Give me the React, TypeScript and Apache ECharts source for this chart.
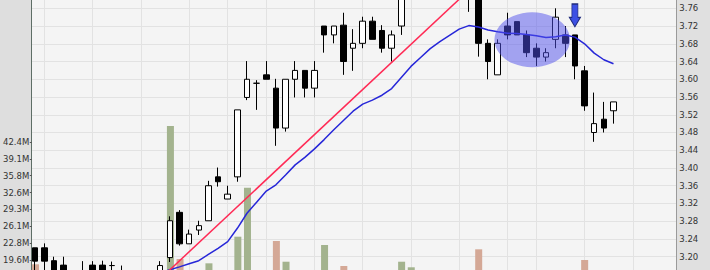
import React, { useEffect, useRef } from 'react';
import * as echarts from 'echarts';

// ---- data (visible candles k = 0..60) ----
const opens = [
  3.220, 3.220, 3.191, 3.181, 3.160, 3.165, 3.181, 3.181, 3.180, 3.165,
  3.160, 3.150, 3.140, 3.165, 3.198, 3.300, 3.229, 3.260, 3.281, 3.380,
  3.330, 3.380, 3.559, 3.591, 3.610, 3.580, 3.490, 3.600, 3.620, 3.580,
  3.720, 3.700, 3.722, 3.670, 3.681, 3.731, 3.710, 3.670, 3.720, 3.800,
  3.840, 3.860, 3.830, 3.850, 3.820, 3.800, 3.790, 3.681, 3.610, 3.720,
  3.730, 3.700, 3.670, 3.650, 3.690, 3.700, 3.700, 3.619, 3.480, 3.510,
  3.529,
];
const closes = [
  3.190, 3.190, 3.160, 3.160, 3.155, 3.160, 3.165, 3.165, 3.180, 3.160,
  3.150, 3.140, 3.150, 3.180, 3.281, 3.229, 3.251, 3.270, 3.360, 3.369,
  3.341, 3.531, 3.600, 3.591, 3.600, 3.490, 3.600, 3.620, 3.580, 3.620,
  3.700, 3.720, 3.640, 3.681, 3.731, 3.690, 3.670, 3.700, 3.800, 3.840,
  3.860, 3.830, 3.850, 3.820, 3.800, 3.790, 3.681, 3.640, 3.681, 3.700,
  3.700, 3.660, 3.650, 3.660, 3.740, 3.681, 3.630, 3.540, 3.500, 3.490,
  3.549,
];
const lows = [
  3.165, 3.170, 3.150, 3.150, 3.140, 3.150, 3.155, 3.155, 3.160, 3.150,
  3.140, 3.130, 3.130, 3.160, 3.188, 3.225, 3.229, 3.249, 3.281, 3.358,
  3.330, 3.369, 3.553, 3.531, 3.600, 3.450, 3.482, 3.559, 3.559, 3.559,
  3.660, 3.681, 3.610, 3.619, 3.670, 3.690, 3.660, 3.640, 3.700, 3.790,
  3.820, 3.810, 3.800, 3.800, 3.790, 3.752, 3.651, 3.600, 3.610, 3.690,
  3.700, 3.650, 3.630, 3.640, 3.670, 3.650, 3.600, 3.529, 3.459, 3.480,
  3.500,
];
const highs = [
  3.220, 3.230, 3.200, 3.200, 3.165, 3.190, 3.190, 3.191, 3.189, 3.180,
  3.165, 3.160, 3.160, 3.190, 3.291, 3.305, 3.261, 3.281, 3.371, 3.401,
  3.360, 3.531, 3.641, 3.598, 3.641, 3.601, 3.600, 3.641, 3.620, 3.641,
  3.720, 3.720, 3.750, 3.713, 3.741, 3.741, 3.722, 3.710, 3.810, 3.850,
  3.880, 3.880, 3.870, 3.860, 3.830, 3.810, 3.800, 3.690, 3.690, 3.750,
  3.730, 3.710, 3.681, 3.670, 3.760, 3.720, 3.700, 3.630, 3.570, 3.549,
  3.549,
];
// volume in millions
const volumesM = [
  18.73, 15, 12, 10, 8, 7, 9, 8, 6, 7,
  9, 11, 8, 10, 45.49, 19.75, 14, 12, 18.92, 15,
  13, 24.07, 33.55, 16, 14, 23.24, 19.23, 15, 12, 16,
  22.46, 17, 18.40, 13, 16, 14, 12, 11, 19.23, 18.15,
  16, 14, 12, 13, 11, 15, 21.63, 16, 14, 12,
  10, 13, 11, 9, 15, 12, 16, 19.56, 17, 12,
  10,
];
// moving average line
const maValues: (number | null)[] = [
  null, null, null, null, null, null, null, null, null, null,
  null, null, null, 3.163, 3.1705, 3.177, 3.184, 3.191, 3.205, 3.219,
  3.234, 3.264, 3.298, 3.323, 3.348, 3.362, 3.384, 3.407, 3.424, 3.443,
  3.464, 3.486, 3.507, 3.528, 3.544, 3.553, 3.564, 3.579, 3.604, 3.629,
  3.649, 3.669, 3.685, 3.699, 3.713, 3.721, 3.718, 3.711, 3.707, 3.704,
  3.703, 3.701, 3.698, 3.694, 3.696, 3.700, 3.695, 3.680, 3.659, 3.644,
  3.635,
];
// trend line endpoints: [candle index, price]
const trendPoints: [number, number][] = [[13, 3.150], [46, 3.821]];
// candles on which a vertical (week) grid line falls
const weekStarts = [1, 6, 11, 16, 20, 24, 29, 34, 39, 44, 49, 52, 57, 62];
// volume tick labels for ticks 6..13
const volTickLabels = ['19.6M', '22.8M', '26.1M', '29.3M', '32.6M', '35.8M', '39.1M', '42.4M'];
const VOL_MAX = 42.4;
const VOL_TICKS = 13;
// annotations
const highlight = { index: 52, price: 3.689 };
const arrowMark = { index: 56, price: 3.7441 };

const LEAD = 1;
const TRAIL = 7;
const N = LEAD + opens.length + TRAIL;
const categories = Array.from({ length: N }, (_, i) => 'D' + (i + 1));

export default function App() {
  const ref = useRef<HTMLDivElement>(null);
  useEffect(() => {
    if (!ref.current) return;
    const chart = echarts.init(ref.current, null, { renderer: 'svg' });

    const candleData = categories.map((_, i) => {
      const k = i - LEAD;
      if (k < 0 || k >= opens.length) return ['-', '-', '-', '-'];
      return [opens[k], closes[k], lows[k], highs[k]];
    });
    const volData = categories.map((_, i) => {
      const k = i - LEAD;
      if (k < 0 || k >= volumesM.length) return '-';
      const up = k === 0 ? closes[0] >= opens[0] : closes[k] >= closes[k - 1];
      return { value: volumesM[k], itemStyle: { color: up ? '#a3b38e' : '#d4a896' } };
    });
    const maData = categories.map((_, i) => {
      const k = i - LEAD;
      const v = k >= 0 && k < maValues.length ? maValues[k] : null;
      return v == null ? '-' : v;
    });
    const trendData: any[] = categories.map(() => '-');
    trendPoints.forEach(([k, p]) => { trendData[k + LEAD] = p; });

    const font = 'DejaVu Sans';
    chart.setOption({
      animation: false,
      backgroundColor: '#f4f4f4',
      textStyle: { fontFamily: font },
      grid: [
        { left: 25.155, right: 29.0, top: 10.56, bottom: 34.6 },
        { left: 25.155, right: 29.0, top: 161.96, bottom: 18.9 },
      ],
      xAxis: [
        {
          type: 'category', gridIndex: 0, data: categories, boundaryGap: false,
          axisLine: { show: false }, axisTick: { show: false }, axisLabel: { show: false },
          splitLine: {
            show: true,
            interval: (index: number) => weekStarts.includes(index - LEAD),
            lineStyle: { color: '#e2e2e2', width: 1 },
          },
        },
        {
          type: 'category', gridIndex: 1, data: categories, boundaryGap: false,
          axisLine: { show: false }, axisTick: { show: false }, axisLabel: { show: false },
          splitLine: { show: false },
        },
      ],
      yAxis: [
        {
          type: 'value', gridIndex: 0, position: 'left', min: 3.0, max: 3.8, interval: 0.04,
          axisLine: { show: false }, axisTick: { show: false }, axisLabel: { show: false },
          splitLine: { show: true, lineStyle: { color: '#e2e2e2', width: 1 } },
          z: 0,
        },
        {
          type: 'value', gridIndex: 0, position: 'right', min: 3.0, max: 3.8, interval: 0.04,
          offset: -4.3, z: 60,
          axisLine: { show: false }, axisTick: { show: false },
          splitLine: { show: false },
          axisLabel: {
            margin: 2.6, color: '#333', fontSize: 8.5, fontFamily: font,
            formatter: (v: number) => (v > 3.199 && v < 3.761 ? v.toFixed(2) : ''),
          },
        },
        {
          type: 'value', gridIndex: 1, position: 'left', min: 0, max: VOL_MAX,
          interval: VOL_MAX / VOL_TICKS,
          offset: -5.85, z: 60,
          axisLine: { show: false },
          axisTick: { show: true, length: 2, lineStyle: { color: '#555' } },
          splitLine: { show: false },
          axisLabel: {
            margin: 2.5, color: '#333', fontSize: 8.5, fontFamily: font,
            formatter: (v: number) => {
              const idx = Math.round(v / (VOL_MAX / VOL_TICKS));
              return volTickLabels[idx - 6] || '';
            },
          },
        },
      ],
      series: [
        {
          type: 'bar', xAxisIndex: 1, yAxisIndex: 2, data: volData, barWidth: 7,
          clip: false, z: 1,
        },
        {
          type: 'candlestick', xAxisIndex: 0, yAxisIndex: 0, data: candleData,
          barWidth: 6, clip: true,
          itemStyle: {
            color: '#ffffff', color0: '#000000',
            borderColor: '#000000', borderColor0: '#000000', borderWidth: 1,
          },
          markPoint: {
            label: { show: false },
            silent: true,
            data: [
              {
                coord: [categories[highlight.index + LEAD], highlight.price],
                symbol: 'circle', symbolSize: [75.6, 55], symbolOffset: [-4.1, 0],
                itemStyle: { color: 'rgba(80,80,235,0.5)', borderWidth: 0 },
              },
              {
                coord: [categories[arrowMark.index + LEAD], arrowMark.price],
                symbol: 'path://M2.5,0 L8.5,0 L8.5,13.4 L11,13.4 L5.5,22.7 L0,13.4 L2.5,13.4 Z',
                symbolSize: [11, 22.7],
                itemStyle: { color: '#3d50e4', borderColor: '#1f2a7a', borderWidth: 1 },
              },
            ],
          },
        },
        {
          type: 'line', xAxisIndex: 0, yAxisIndex: 0, data: maData,
          showSymbol: false, symbol: 'none',
          lineStyle: { color: '#2626d8', width: 1.5 },
          z: 3,
        },
        {
          type: 'line', xAxisIndex: 0, yAxisIndex: 0, data: trendData,
          connectNulls: true, showSymbol: false, symbol: 'none',
          lineStyle: { color: '#ff2a55', width: 1.5 },
          z: 3,
        },
      ],
      graphic: [
        { type: 'rect', z: 40, shape: { x: 0, y: 0, width: 31, height: 400 }, style: { fill: '#dedede' } },
        { type: 'line', z: 41, shape: { x1: 31.5, y1: 0, x2: 31.5, y2: 400 }, style: { stroke: '#5e6e66', lineWidth: 1 } },
        { type: 'rect', z: 40, shape: { x: 677, y: 0, width: 40, height: 400 }, style: { fill: '#e0e0e0' } },
        { type: 'line', z: 41, shape: { x1: 676.5, y1: 0, x2: 676.5, y2: 400 }, style: { stroke: '#9a9a9a', lineWidth: 1 } },
      ],
    });
    return () => chart.dispose();
  }, []);

  return (
    <div style={{ position: 'fixed', left: 0, top: 0, width: 710, height: 270, overflow: 'hidden', background: '#f4f4f4' }}>
      <div ref={ref} style={{ position: 'absolute', left: 0, top: -20, width: 710, height: 400 }} />
    </div>
  );
}
